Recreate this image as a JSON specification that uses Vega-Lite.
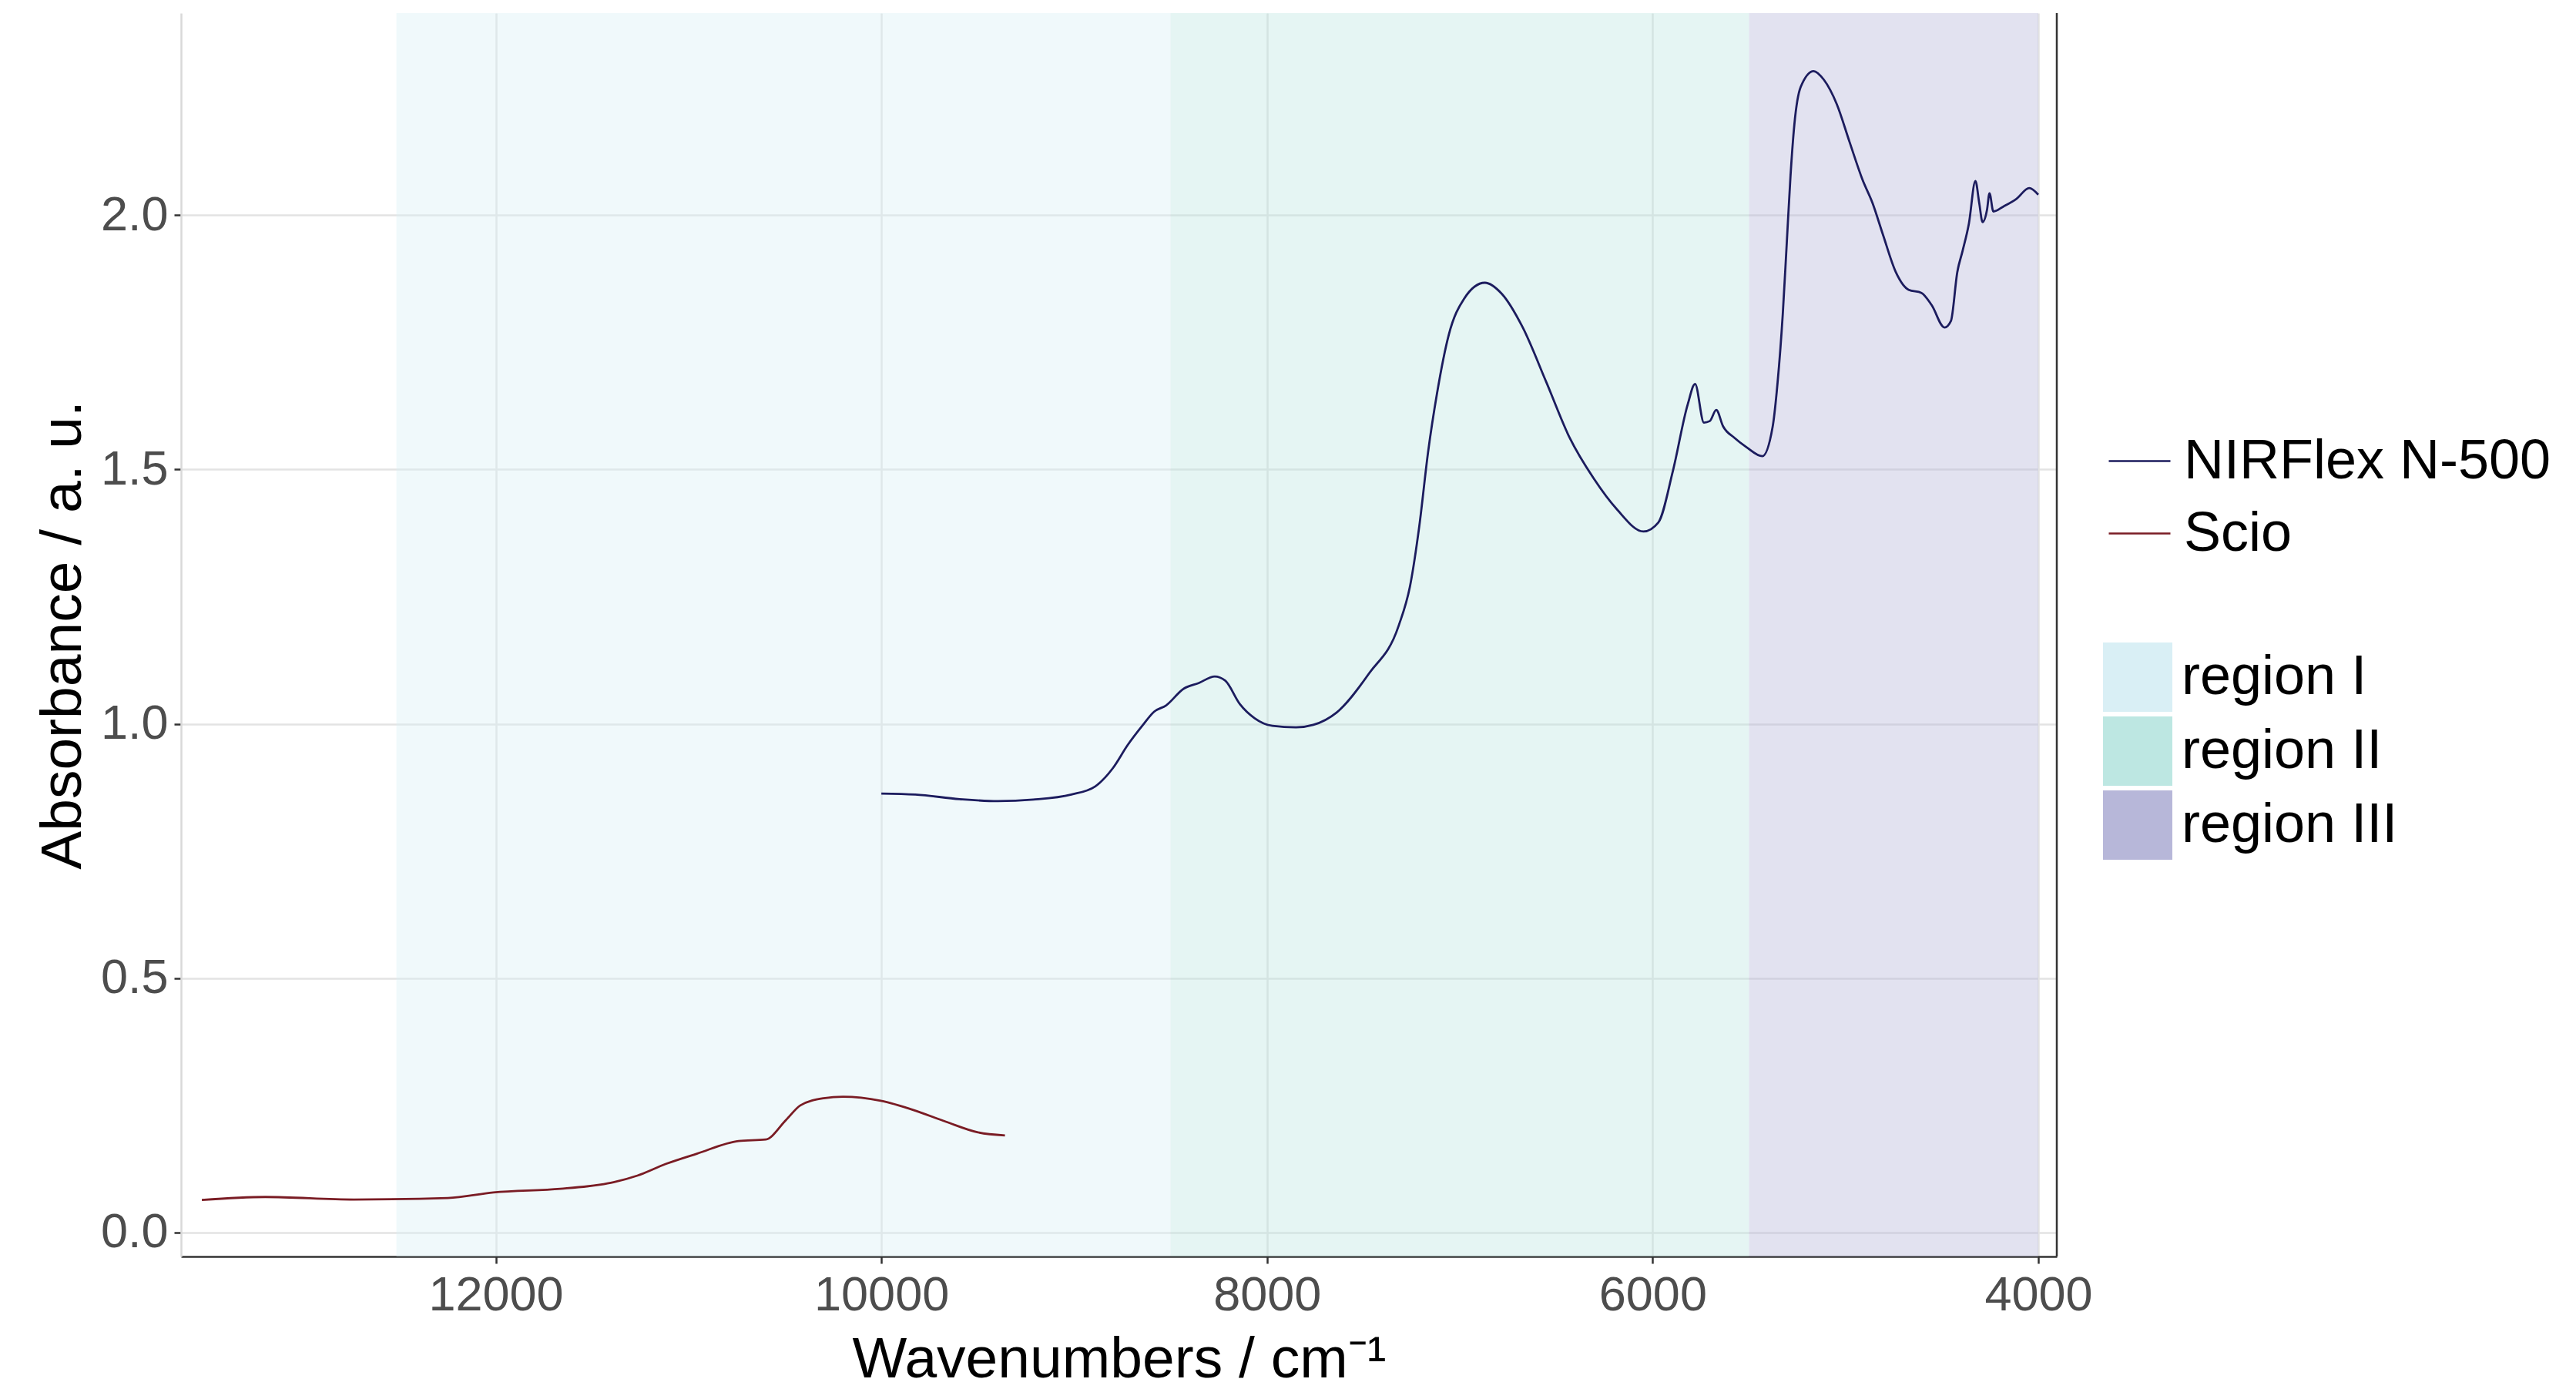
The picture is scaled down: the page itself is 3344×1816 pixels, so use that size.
{
  "$schema": "https://vega.github.io/schema/vega-lite/v6.json",
  "width": 2435,
  "height": 1614,
  "autosize": {"type": "none"},
  "padding": {"left": 235, "top": 17, "right": 674, "bottom": 185},
  "background": "white",
  "config": {
    "font": "Liberation Sans",
    "view": {"stroke": null},
    "axis": {
      "labelFont": "Liberation Sans",
      "titleFont": "Liberation Sans",
      "labelFontSize": 63,
      "labelColor": "#4d4d4d",
      "titleFontSize": 75,
      "titleColor": "#000000",
      "titleFontWeight": "normal",
      "tickSize": 9,
      "tickWidth": 2.5,
      "tickColor": "#333333",
      "gridColor": "#e3e3e3",
      "gridWidth": 2.5,
      "domainWidth": 2.5
    },
    "legend": {
      "labelFont": "Liberation Sans",
      "labelFontSize": 72,
      "labelColor": "#000000",
      "labelLimit": 1000,
      "padding": 0,
      "titlePadding": 0
    }
  },
  "datasets": {
    "regions": [
      {"start": 12515, "end": 8500, "region": "region I"},
      {"start": 8500, "end": 5500, "region": "region II"},
      {"start": 5500, "end": 4000, "region": "region III"}
    ],
    "spectra": [
      {"wn": 10000, "abs": 0.863, "instrument": "NIRFlex N-500"},
      {"wn": 9824, "abs": 0.861, "instrument": "NIRFlex N-500"},
      {"wn": 9594, "abs": 0.852, "instrument": "NIRFlex N-500"},
      {"wn": 9396, "abs": 0.848, "instrument": "NIRFlex N-500"},
      {"wn": 9212, "abs": 0.851, "instrument": "NIRFlex N-500"},
      {"wn": 9015, "abs": 0.861, "instrument": "NIRFlex N-500"},
      {"wn": 8891, "abs": 0.877, "instrument": "NIRFlex N-500"},
      {"wn": 8799, "abs": 0.913, "instrument": "NIRFlex N-500"},
      {"wn": 8723, "abs": 0.958, "instrument": "NIRFlex N-500"},
      {"wn": 8647, "abs": 0.996, "instrument": "NIRFlex N-500"},
      {"wn": 8585, "abs": 1.024, "instrument": "NIRFlex N-500"},
      {"wn": 8524, "abs": 1.036, "instrument": "NIRFlex N-500"},
      {"wn": 8432, "abs": 1.069, "instrument": "NIRFlex N-500"},
      {"wn": 8355, "abs": 1.080, "instrument": "NIRFlex N-500"},
      {"wn": 8271, "abs": 1.093, "instrument": "NIRFlex N-500"},
      {"wn": 8217, "abs": 1.085, "instrument": "NIRFlex N-500"},
      {"wn": 8141, "abs": 1.039, "instrument": "NIRFlex N-500"},
      {"wn": 8064, "abs": 1.011, "instrument": "NIRFlex N-500"},
      {"wn": 7972, "abs": 0.996, "instrument": "NIRFlex N-500"},
      {"wn": 7850, "abs": 0.993, "instrument": "NIRFlex N-500"},
      {"wn": 7760, "abs": 0.998, "instrument": "NIRFlex N-500"},
      {"wn": 7640, "abs": 1.022, "instrument": "NIRFlex N-500"},
      {"wn": 7471, "abs": 1.099, "instrument": "NIRFlex N-500"},
      {"wn": 7317, "abs": 1.193, "instrument": "NIRFlex N-500"},
      {"wn": 7257, "abs": 1.273, "instrument": "NIRFlex N-500"},
      {"wn": 7210, "abs": 1.389, "instrument": "NIRFlex N-500"},
      {"wn": 7165, "abs": 1.533, "instrument": "NIRFlex N-500"},
      {"wn": 7118, "abs": 1.650, "instrument": "NIRFlex N-500"},
      {"wn": 7057, "abs": 1.765, "instrument": "NIRFlex N-500"},
      {"wn": 6979, "abs": 1.835, "instrument": "NIRFlex N-500"},
      {"wn": 6870, "abs": 1.867, "instrument": "NIRFlex N-500"},
      {"wn": 6782, "abs": 1.845, "instrument": "NIRFlex N-500"},
      {"wn": 6675, "abs": 1.780, "instrument": "NIRFlex N-500"},
      {"wn": 6553, "abs": 1.673, "instrument": "NIRFlex N-500"},
      {"wn": 6430, "abs": 1.562, "instrument": "NIRFlex N-500"},
      {"wn": 6307, "abs": 1.483, "instrument": "NIRFlex N-500"},
      {"wn": 6184, "abs": 1.421, "instrument": "NIRFlex N-500"},
      {"wn": 6048, "abs": 1.378, "instrument": "NIRFlex N-500"},
      {"wn": 5970, "abs": 1.396, "instrument": "NIRFlex N-500"},
      {"wn": 5895, "abs": 1.497, "instrument": "NIRFlex N-500"},
      {"wn": 5818, "abs": 1.628, "instrument": "NIRFlex N-500"},
      {"wn": 5780, "abs": 1.668, "instrument": "NIRFlex N-500"},
      {"wn": 5734, "abs": 1.592, "instrument": "NIRFlex N-500"},
      {"wn": 5704, "abs": 1.595, "instrument": "NIRFlex N-500"},
      {"wn": 5670, "abs": 1.617, "instrument": "NIRFlex N-500"},
      {"wn": 5635, "abs": 1.585, "instrument": "NIRFlex N-500"},
      {"wn": 5575, "abs": 1.562, "instrument": "NIRFlex N-500"},
      {"wn": 5514, "abs": 1.544, "instrument": "NIRFlex N-500"},
      {"wn": 5431, "abs": 1.526, "instrument": "NIRFlex N-500"},
      {"wn": 5378, "abs": 1.583, "instrument": "NIRFlex N-500"},
      {"wn": 5352, "abs": 1.671, "instrument": "NIRFlex N-500"},
      {"wn": 5325, "abs": 1.806, "instrument": "NIRFlex N-500"},
      {"wn": 5305, "abs": 1.941, "instrument": "NIRFlex N-500"},
      {"wn": 5285, "abs": 2.077, "instrument": "NIRFlex N-500"},
      {"wn": 5265, "abs": 2.178, "instrument": "NIRFlex N-500"},
      {"wn": 5232, "abs": 2.252, "instrument": "NIRFlex N-500"},
      {"wn": 5165, "abs": 2.283, "instrument": "NIRFlex N-500"},
      {"wn": 5112, "abs": 2.266, "instrument": "NIRFlex N-500"},
      {"wn": 5045, "abs": 2.218, "instrument": "NIRFlex N-500"},
      {"wn": 4979, "abs": 2.144, "instrument": "NIRFlex N-500"},
      {"wn": 4912, "abs": 2.070, "instrument": "NIRFlex N-500"},
      {"wn": 4859, "abs": 2.023, "instrument": "NIRFlex N-500"},
      {"wn": 4806, "abs": 1.962, "instrument": "NIRFlex N-500"},
      {"wn": 4739, "abs": 1.888, "instrument": "NIRFlex N-500"},
      {"wn": 4672, "abs": 1.853, "instrument": "NIRFlex N-500"},
      {"wn": 4606, "abs": 1.847, "instrument": "NIRFlex N-500"},
      {"wn": 4553, "abs": 1.823, "instrument": "NIRFlex N-500"},
      {"wn": 4486, "abs": 1.779, "instrument": "NIRFlex N-500"},
      {"wn": 4453, "abs": 1.792, "instrument": "NIRFlex N-500"},
      {"wn": 4420, "abs": 1.888, "instrument": "NIRFlex N-500"},
      {"wn": 4393, "abs": 1.929, "instrument": "NIRFlex N-500"},
      {"wn": 4360, "abs": 1.983, "instrument": "NIRFlex N-500"},
      {"wn": 4326, "abs": 2.067, "instrument": "NIRFlex N-500"},
      {"wn": 4306, "abs": 2.023, "instrument": "NIRFlex N-500"},
      {"wn": 4289, "abs": 1.986, "instrument": "NIRFlex N-500"},
      {"wn": 4266, "abs": 2.010, "instrument": "NIRFlex N-500"},
      {"wn": 4253, "abs": 2.043, "instrument": "NIRFlex N-500"},
      {"wn": 4233, "abs": 2.007, "instrument": "NIRFlex N-500"},
      {"wn": 4180, "abs": 2.017, "instrument": "NIRFlex N-500"},
      {"wn": 4113, "abs": 2.032, "instrument": "NIRFlex N-500"},
      {"wn": 4047, "abs": 2.053, "instrument": "NIRFlex N-500"},
      {"wn": 4000, "abs": 2.040, "instrument": "NIRFlex N-500"},
      {"wn": 13524, "abs": 0.064, "instrument": "Scio"},
      {"wn": 13195, "abs": 0.070, "instrument": "Scio"},
      {"wn": 12735, "abs": 0.065, "instrument": "Scio"},
      {"wn": 12248, "abs": 0.068, "instrument": "Scio"},
      {"wn": 12012, "abs": 0.079, "instrument": "Scio"},
      {"wn": 11664, "abs": 0.086, "instrument": "Scio"},
      {"wn": 11462, "abs": 0.094, "instrument": "Scio"},
      {"wn": 11389, "abs": 0.099, "instrument": "Scio"},
      {"wn": 11265, "abs": 0.112, "instrument": "Scio"},
      {"wn": 11117, "abs": 0.135, "instrument": "Scio"},
      {"wn": 10957, "abs": 0.155, "instrument": "Scio"},
      {"wn": 10740, "abs": 0.180, "instrument": "Scio"},
      {"wn": 10600, "abs": 0.183, "instrument": "Scio"},
      {"wn": 10495, "abs": 0.221, "instrument": "Scio"},
      {"wn": 10420, "abs": 0.250, "instrument": "Scio"},
      {"wn": 10300, "abs": 0.264, "instrument": "Scio"},
      {"wn": 10199, "abs": 0.267, "instrument": "Scio"},
      {"wn": 10003, "abs": 0.259, "instrument": "Scio"},
      {"wn": 9834, "abs": 0.241, "instrument": "Scio"},
      {"wn": 9666, "abs": 0.218, "instrument": "Scio"},
      {"wn": 9499, "abs": 0.197, "instrument": "Scio"},
      {"wn": 9359, "abs": 0.191, "instrument": "Scio"}
    ]
  },
  "layer": [
    {
      "data": {"name": "regions"},
      "mark": {"type": "rect", "opacity": 0.4},
      "encoding": {
        "x": {
          "field": "start",
          "type": "quantitative",
          "scale": {"domain": [3904, 13632], "reverse": true, "nice": false, "zero": false},
          "axis": {
            "title": "Wavenumbers / cm⁻¹",
            "values": [4000, 6000, 8000, 10000, 12000],
            "format": "d",
            "domainColor": "#333333",
            "labelPadding": 10,
            "titlePadding": 15
          }
        },
        "x2": {"field": "end"},
        "fill": {
          "field": "region",
          "type": "nominal",
          "scale": {
            "domain": ["region I", "region II", "region III"],
            "range": ["#d9eff5", "#bde7e2", "#b7b7d9"]
          },
          "legend": {
            "title": null,
            "orient": "none",
            "legendX": 2495,
            "legendY": 817,
            "symbolType": "square",
            "symbolSize": 8100,
            "symbolOpacity": 1,
            "symbolStrokeWidth": 0,
            "rowPadding": 6,
            "labelOffset": 12
          }
        }
      }
    },
    {
      "data": {"name": "spectra"},
      "mark": {"type": "line", "strokeWidth": 2.8, "interpolate": "monotone"},
      "encoding": {
        "x": {"field": "wn", "type": "quantitative"},
        "y": {
          "field": "abs",
          "type": "quantitative",
          "scale": {"domain": [-0.047, 2.397], "nice": false, "zero": false},
          "axis": {
            "title": "Absorbance / a. u.",
            "values": [0, 0.5, 1, 1.5, 2],
            "format": ".1f",
            "domainColor": "#d9d9d9",
            "labelPadding": 8,
            "titlePadding": 10
          }
        },
        "color": {
          "field": "instrument",
          "type": "nominal",
          "scale": {
            "domain": ["NIRFlex N-500", "Scio"],
            "range": ["#1c1c5e", "#7a1c24"]
          },
          "legend": {
            "title": null,
            "orient": "none",
            "legendX": 2501,
            "legendY": 540,
            "symbolType": "stroke",
            "symbolSize": 6400,
            "symbolStrokeWidth": 2.5,
            "rowPadding": 16,
            "labelOffset": 16
          }
        }
      }
    },
    {
      "data": {"values": [{}]},
      "mark": {"type": "rule", "color": "#333333", "strokeWidth": 2.5},
      "encoding": {"x": {"datum": 3904}}
    }
  ]
}
